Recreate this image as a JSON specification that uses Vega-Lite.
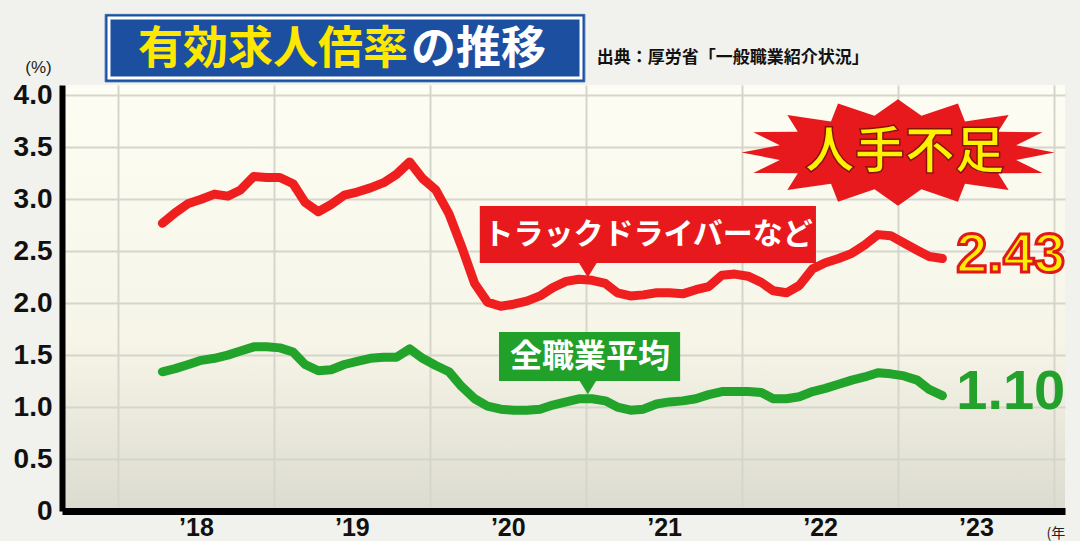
{
  "$schema": "https://vega.github.io/schema/vega-lite/v6.json",
  "width": 1003,
  "height": 426,
  "autosize": "none",
  "padding": {"left": 62, "top": 85, "right": 15, "bottom": 30},
  "background": "#f1f1ee",
  "view": {"fill": {"gradient": "linear", "x1": 0, "y1": 0, "x2": 0, "y2": 1, "stops": [{"offset": 0, "color": "#fdfdf3"}, {"offset": 0.6, "color": "#f6f5e8"}, {"offset": 1, "color": "#dcdbcf"}]}, "stroke": null},
  "config": {"text": {"font": "Noto Sans CJK JP"}},
  "datasets": {
    "rates": [
      {"d": "2018-04-15", "truck": 2.77, "all": 1.34},
      {"d": "2018-05-15", "truck": 2.87, "all": 1.37},
      {"d": "2018-06-15", "truck": 2.96, "all": 1.41},
      {"d": "2018-07-15", "truck": 3.00, "all": 1.45},
      {"d": "2018-08-15", "truck": 3.05, "all": 1.47},
      {"d": "2018-09-15", "truck": 3.03, "all": 1.50},
      {"d": "2018-10-15", "truck": 3.09, "all": 1.54},
      {"d": "2018-11-15", "truck": 3.22, "all": 1.58},
      {"d": "2018-12-15", "truck": 3.21, "all": 1.58},
      {"d": "2019-01-15", "truck": 3.21, "all": 1.57},
      {"d": "2019-02-15", "truck": 3.15, "all": 1.53},
      {"d": "2019-03-15", "truck": 2.97, "all": 1.41},
      {"d": "2019-04-15", "truck": 2.88, "all": 1.35},
      {"d": "2019-05-15", "truck": 2.95, "all": 1.36},
      {"d": "2019-06-15", "truck": 3.04, "all": 1.41},
      {"d": "2019-07-15", "truck": 3.07, "all": 1.44},
      {"d": "2019-08-15", "truck": 3.11, "all": 1.47},
      {"d": "2019-09-15", "truck": 3.16, "all": 1.48},
      {"d": "2019-10-15", "truck": 3.24, "all": 1.48},
      {"d": "2019-11-15", "truck": 3.36, "all": 1.56},
      {"d": "2019-12-15", "truck": 3.20, "all": 1.47},
      {"d": "2020-01-15", "truck": 3.09, "all": 1.40},
      {"d": "2020-02-15", "truck": 2.86, "all": 1.34},
      {"d": "2020-03-15", "truck": 2.55, "all": 1.20},
      {"d": "2020-04-15", "truck": 2.19, "all": 1.08},
      {"d": "2020-05-15", "truck": 2.01, "all": 1.01},
      {"d": "2020-06-15", "truck": 1.97, "all": 0.98},
      {"d": "2020-07-15", "truck": 1.99, "all": 0.97},
      {"d": "2020-08-15", "truck": 2.02, "all": 0.97},
      {"d": "2020-09-15", "truck": 2.07, "all": 0.98},
      {"d": "2020-10-15", "truck": 2.15, "all": 1.02},
      {"d": "2020-11-15", "truck": 2.21, "all": 1.05},
      {"d": "2020-12-15", "truck": 2.23, "all": 1.08},
      {"d": "2021-01-15", "truck": 2.22, "all": 1.08},
      {"d": "2021-02-15", "truck": 2.19, "all": 1.06},
      {"d": "2021-03-15", "truck": 2.10, "all": 1.00},
      {"d": "2021-04-15", "truck": 2.07, "all": 0.97},
      {"d": "2021-05-15", "truck": 2.08, "all": 0.98},
      {"d": "2021-06-15", "truck": 2.10, "all": 1.03},
      {"d": "2021-07-15", "truck": 2.10, "all": 1.05},
      {"d": "2021-08-15", "truck": 2.09, "all": 1.06},
      {"d": "2021-09-15", "truck": 2.13, "all": 1.08},
      {"d": "2021-10-15", "truck": 2.16, "all": 1.12},
      {"d": "2021-11-15", "truck": 2.27, "all": 1.15},
      {"d": "2021-12-15", "truck": 2.28, "all": 1.15},
      {"d": "2022-01-15", "truck": 2.26, "all": 1.15},
      {"d": "2022-02-15", "truck": 2.20, "all": 1.14},
      {"d": "2022-03-15", "truck": 2.12, "all": 1.08},
      {"d": "2022-04-15", "truck": 2.10, "all": 1.08},
      {"d": "2022-05-15", "truck": 2.17, "all": 1.10},
      {"d": "2022-06-15", "truck": 2.33, "all": 1.15},
      {"d": "2022-07-15", "truck": 2.39, "all": 1.18},
      {"d": "2022-08-15", "truck": 2.43, "all": 1.22},
      {"d": "2022-09-15", "truck": 2.48, "all": 1.26},
      {"d": "2022-10-15", "truck": 2.56, "all": 1.29},
      {"d": "2022-11-15", "truck": 2.66, "all": 1.33},
      {"d": "2022-12-15", "truck": 2.65, "all": 1.32},
      {"d": "2023-01-15", "truck": 2.58, "all": 1.30},
      {"d": "2023-02-15", "truck": 2.51, "all": 1.26},
      {"d": "2023-03-15", "truck": 2.45, "all": 1.17},
      {"d": "2023-04-15", "truck": 2.43, "all": 1.11}
    ]
  },
  "layer": [
    {
      "data": {"name": "rates"},
      "mark": {"type": "line", "color": "#ef1f1f", "strokeWidth": 9, "strokeCap": "round", "strokeJoin": "round"},
      "encoding": {
        "x": {
          "field": "d", "type": "temporal",
          "scale": {"domain": [{"year": 2017, "month": 8, "date": 23}, {"year": 2024, "month": 1, "date": 27}], "nice": false},
          "axis": {
            "values": [{"year": 2018, "month": 1, "date": 1}, {"year": 2019, "month": 1, "date": 1}, {"year": 2020, "month": 1, "date": 1}, {"year": 2021, "month": 1, "date": 1}, {"year": 2022, "month": 1, "date": 1}, {"year": 2023, "month": 1, "date": 1}, {"year": 2024, "month": 1, "date": 1}],
            "labelExpr": "year(datum.value) > 2023 ? '' : '’' + timeFormat(datum.value, '%y')",
            "labelOffset": 78, "labelFlush": false, "labelOverlap": false,
            "grid": true, "gridColor": "#d6d5cb", "gridWidth": 2,
            "ticks": false, "domainColor": "#000000", "domainWidth": 7,
            "labelFontSize": 25, "labelFont": "Liberation Sans", "labelFontWeight": "bold", "labelColor": "#111111", "labelPadding": 4,
            "title": "(年", "titleX": 984, "titleY": 22, "titleAlign": "left", "titleBaseline": "middle", "titleFontSize": 14, "titleFontWeight": "normal", "titleColor": "#222222", "titleFont": "Noto Sans CJK JP"
          }
        },
        "y": {
          "field": "truck", "type": "quantitative",
          "scale": {"domain": [0, 4.1], "nice": false},
          "axis": {
            "values": [0, 0.5, 1, 1.5, 2, 2.5, 3, 3.5, 4],
            "labelExpr": "datum.value == 0 ? '0' : format(datum.value, '.1f')",
            "grid": true, "gridColor": "#d6d5cb", "gridWidth": 2,
            "ticks": false, "domainColor": "#000000", "domainWidth": 6,
            "labelFontSize": 28, "labelFont": "Liberation Sans", "labelFontWeight": "bold", "labelColor": "#111111", "labelPadding": 10,
            "title": "(%)", "titleAngle": 0, "titleX": -24, "titleY": -18, "titleAlign": "center", "titleBaseline": "middle", "titleFontSize": 17, "titleFontWeight": "normal", "titleColor": "#222222", "titleFont": "Liberation Sans"
          }
        }
      }
    },
    {
      "data": {"name": "rates"},
      "mark": {"type": "line", "color": "#22a32a", "strokeWidth": 9, "strokeCap": "round", "strokeJoin": "round"},
      "encoding": {
        "x": {"field": "d", "type": "temporal"},
        "y": {"field": "all", "type": "quantitative"}
      }
    },
    {
      "data": {"values": [{}]},
      "mark": {"type": "rect", "color": "#e8191c"},
      "encoding": {
        "x": {"datum": {"year": 2020, "month": 4, "date": 27}, "type": "temporal"},
        "x2": {"datum": {"year": 2022, "month": 6, "date": 23}},
        "y": {"datum": 2.935, "type": "quantitative"},
        "y2": {"datum": 2.387}
      }
    },
    {
      "data": {"values": [{}]},
      "mark": {"type": "point", "shape": "M-1,-0.8L1,-0.8L0,0.8Z", "filled": true, "opacity": 1, "color": "#e8191c", "size": 324},
      "encoding": {
        "x": {"datum": {"year": 2021, "month": 1, "date": 5}, "type": "temporal"},
        "y": {"datum": 2.32, "type": "quantitative"}
      }
    },
    {
      "data": {"values": [{}]},
      "mark": {"type": "text", "text": "トラックドライバーなど", "fontSize": 30, "fontWeight": "bold", "color": "#ffffff", "align": "center", "baseline": "middle"},
      "encoding": {
        "x": {"datum": {"year": 2021, "month": 5, "date": 26}, "type": "temporal"},
        "y": {"datum": 2.656, "type": "quantitative"}
      }
    },
    {
      "data": {"values": [{}]},
      "mark": {"type": "rect", "color": "#22a12a"},
      "encoding": {
        "x": {"datum": {"year": 2020, "month": 6, "date": 11}, "type": "temporal"},
        "x2": {"datum": {"year": 2021, "month": 8, "date": 9}},
        "y": {"datum": 1.723, "type": "quantitative"},
        "y2": {"datum": 1.251}
      }
    },
    {
      "data": {"values": [{}]},
      "mark": {"type": "point", "shape": "M-1,-0.8L1,-0.8L0,0.8Z", "filled": true, "opacity": 1, "color": "#22a12a", "size": 324},
      "encoding": {
        "x": {"datum": {"year": 2021, "month": 1, "date": 5}, "type": "temporal"},
        "y": {"datum": 1.193, "type": "quantitative"}
      }
    },
    {
      "data": {"values": [{}]},
      "mark": {"type": "text", "text": "全職業平均", "fontSize": 32, "fontWeight": "bold", "color": "#ffffff", "align": "center", "baseline": "middle"},
      "encoding": {
        "x": {"datum": {"year": 2021, "month": 1, "date": 10}, "type": "temporal"},
        "y": {"datum": 1.482, "type": "quantitative"}
      }
    },
    {
      "data": {"values": [{}]},
      "mark": {"type": "point", "shape": "M1,0L.755,.047L.924,.13L.64,.133L.707,.24L.428,.199L.383,.314L.15,.235L0,.34L-.15,.235L-.383,.314L-.428,.199L-.707,.24L-.64,.133L-.924,.13L-.755,.047L-1,0L-.755,-.047L-.924,-.13L-.64,-.133L-.707,-.24L-.428,-.199L-.383,-.314L-.15,-.235L0,-.34L.15,-.235L.383,-.314L.428,-.199L.707,-.24L.64,-.133L.924,-.13L.755,-.047Z", "filled": true, "opacity": 1, "color": "#e8191c", "size": 98000},
      "encoding": {
        "x": {"datum": {"year": 2023, "month": 1, "date": 1}, "type": "temporal"},
        "y": {"datum": 3.45, "type": "quantitative"}
      }
    },
    {
      "data": {"values": [{}]},
      "mark": {"type": "text", "text": "人手不足", "fontSize": 50, "fontWeight": "bold", "fill": "#fff200", "stroke": "#8a1010", "strokeWidth": 1.5, "align": "center", "baseline": "middle"},
      "encoding": {
        "x": {"datum": {"year": 2023, "month": 1, "date": 17}, "type": "temporal"},
        "y": {"datum": 3.45, "type": "quantitative"}
      }
    },
    {
      "data": {"values": [{}]},
      "mark": {"type": "text", "text": "2.43", "font": "Liberation Sans", "fontSize": 56, "fontWeight": "bold", "fill": "#ffee00", "stroke": "#e01818", "strokeWidth": 3, "align": "center", "baseline": "middle"},
      "encoding": {
        "x": {"datum": {"year": 2023, "month": 9, "date": 22}, "type": "temporal"},
        "y": {"datum": 2.46, "type": "quantitative"}
      }
    },
    {
      "data": {"values": [{}]},
      "mark": {"type": "text", "text": "1.10", "font": "Liberation Sans", "fontSize": 56, "fontWeight": "bold", "fill": "#24a12c", "align": "center", "baseline": "middle"},
      "encoding": {
        "x": {"datum": {"year": 2023, "month": 9, "date": 22}, "type": "temporal"},
        "y": {"datum": 1.145, "type": "quantitative"}
      }
    },
    {
      "data": {"values": [{}]},
      "mark": {"type": "rect", "fill": "#1c4f9f", "stroke": "#3a6db5", "strokeWidth": 1},
      "encoding": {
        "x": {"datum": {"year": 2017, "month": 12, "date": 2}, "type": "temporal"},
        "x2": {"datum": {"year": 2020, "month": 12, "date": 29}},
        "y": {"datum": 4.78, "type": "quantitative"},
        "y2": {"datum": 4.13}
      }
    },
    {
      "data": {"values": [{}]},
      "mark": {"type": "rect", "fill": null, "fillOpacity": 0, "stroke": "#ffffff", "strokeWidth": 3},
      "encoding": {
        "x": {"datum": {"year": 2017, "month": 12, "date": 11}, "type": "temporal"},
        "x2": {"datum": {"year": 2020, "month": 12, "date": 20}},
        "y": {"datum": 4.745, "type": "quantitative"},
        "y2": {"datum": 4.167}
      }
    },
    {
      "data": {"values": [{}]},
      "mark": {"type": "text", "text": "有効求人倍率", "fontSize": 45, "fontWeight": "bold", "color": "#ffe800", "align": "left", "baseline": "middle"},
      "encoding": {
        "x": {"datum": {"year": 2018, "month": 2, "date": 17}, "type": "temporal"},
        "y": {"datum": 4.437, "type": "quantitative"}
      }
    },
    {
      "data": {"values": [{}]},
      "mark": {"type": "text", "text": "の推移", "fontSize": 45, "fontWeight": "bold", "color": "#ffffff", "align": "left", "baseline": "middle"},
      "encoding": {
        "x": {"datum": {"year": 2019, "month": 11, "date": 18}, "type": "temporal"},
        "y": {"datum": 4.437, "type": "quantitative"}
      }
    },
    {
      "data": {"values": [{}]},
      "mark": {"type": "text", "text": "出典：厚労省「一般職業紹介状況」", "fontSize": 17, "fontWeight": "bold", "color": "#111111", "align": "left", "baseline": "middle"},
      "encoding": {
        "x": {"datum": {"year": 2021, "month": 1, "date": 26}, "type": "temporal"},
        "y": {"datum": 4.36, "type": "quantitative"}
      }
    }
  ]
}
